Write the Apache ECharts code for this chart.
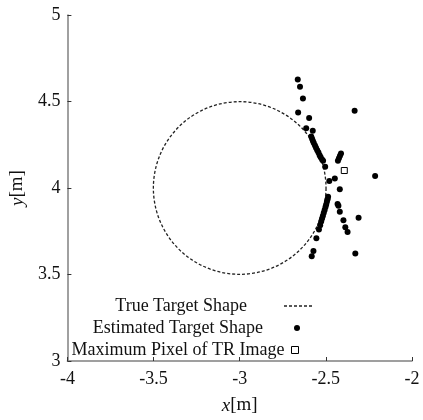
<!DOCTYPE html>
<html>
<head>
<meta charset="utf-8">
<script src="https://cdn.jsdelivr.net/npm/echarts@6/dist/echarts.min.js"></script>
<style>html,body{margin:0;padding:0;background:#fff}#c{width:423px;height:420px}</style>
</head>
<body>
<div id="c"></div>
<script>
// True target: circle [centerX, centerY, radius]
const trueTarget = [[-3, 4, 0.5]];
// Estimated target shape points [x, y]
const estimated = [
  [-2.663, 4.627], [-2.650, 4.585], [-2.633, 4.517], [-2.661, 4.437],
  [-2.597, 4.405], [-2.614, 4.345], [-2.576, 4.331],
  [-2.585, 4.297], [-2.580, 4.285], [-2.575, 4.272], [-2.570, 4.260],
  [-2.563, 4.245], [-2.557, 4.232], [-2.550, 4.218], [-2.543, 4.205],
  [-2.536, 4.190], [-2.530, 4.178], [-2.522, 4.165], [-2.516, 4.157],
  [-2.504, 4.123], [-2.480, 4.040], [-2.448, 4.055], [-2.419, 3.993],
  [-2.333, 4.447], [-2.214, 4.070],
  [-2.412, 4.200], [-2.418, 4.186], [-2.424, 4.172], [-2.430, 4.158],
  [-2.487, 3.949], [-2.490, 3.935], [-2.494, 3.920], [-2.498, 3.905],
  [-2.502, 3.890], [-2.507, 3.873], [-2.512, 3.857], [-2.517, 3.840],
  [-2.522, 3.823], [-2.527, 3.806], [-2.533, 3.785], [-2.540, 3.760],
  [-2.555, 3.709], [-2.572, 3.636], [-2.582, 3.606],
  [-2.432, 3.907], [-2.427, 3.898], [-2.419, 3.862], [-2.398, 3.813],
  [-2.387, 3.773], [-2.374, 3.746], [-2.310, 3.828], [-2.329, 3.621]
];
// Maximum pixel of TR image
const maxPixel = [[-2.393, 4.101]];
const legendNames = ['True Target Shape', 'Estimated Target Shape', 'Maximum Pixel of TR Image'];
const xTicks = { min: -4, max: -2, interval: 0.5 };
const yTicks = { min: 3, max: 5, interval: 0.5 };

const FONT = "'Liberation Serif', 'Times New Roman', serif";
const DASH_ICON = 'path://M0,0h3v1.3h-3z M5,0h3v1.3h-3z M10,0h3v1.3h-3z M15,0h3v1.3h-3z M20,0h3v1.3h-3z M25,0h3v1.3h-3z';
const chart = echarts.init(document.getElementById('c'), null, { renderer: 'canvas' });

function legendFor(item, right, top, w, h, padR) {
  return {
    data: [item],
    right: right, top: top,
    padding: 0,
    align: 'right',
    orient: 'vertical',
    itemWidth: w, itemHeight: h,
    selectedMode: false,
    formatter: '{t|{name}}',
    textStyle: {
      fontFamily: FONT, fontSize: 18, color: '#111', lineHeight: 20,
      rich: { t: { fontFamily: FONT, fontSize: 18, color: '#111', lineHeight: 20, padding: [0, padR, 0, 0] } }
    }
  };
}

const labelStyle = { fontFamily: FONT, fontSize: 18, color: '#111' };

const option = {
  animation: false,
  backgroundColor: '#fff',
  textStyle: { fontFamily: FONT },
  grid: { left: 59, right: 11, top: 15, bottom: 53, containLabel: false },
  xAxis: {
    type: 'value', min: xTicks.min, max: xTicks.max, interval: xTicks.interval,
    name: '{i|x}[m]', nameLocation: 'middle', nameGap: 35,
    nameTextStyle: { fontFamily: FONT, fontSize: 19, color: '#111',
      rich: { i: { fontFamily: FONT, fontSize: 19, fontStyle: 'italic', color: '#111' } } },
    axisLine: { show: true, lineStyle: { color: '#808080', width: 1.5 } },
    axisTick: { show: true, inside: true, length: 4, lineStyle: { color: '#333', width: 1 } },
    axisLabel: Object.assign({ margin: 9 }, labelStyle),
    splitLine: { show: false }
  },
  yAxis: {
    type: 'value', min: yTicks.min, max: yTicks.max, interval: yTicks.interval,
    name: '{i|y}[m]', nameLocation: 'middle', nameGap: 38,
    nameTextStyle: { fontFamily: FONT, fontSize: 19, color: '#111',
      rich: { i: { fontFamily: FONT, fontSize: 19, fontStyle: 'italic', color: '#111' } } },
    axisLine: { show: true, lineStyle: { color: '#808080', width: 1.5 } },
    axisTick: { show: true, inside: true, length: 4, lineStyle: { color: '#333', width: 1 } },
    axisLabel: Object.assign({ margin: 7 }, labelStyle),
    splitLine: { show: false }
  },
  legend: [
    legendFor({ name: legendNames[0], icon: DASH_ICON, itemStyle: { color: '#222' } }, 111, 296, 28, 1.3, 32),
    legendFor({ name: legendNames[1], icon: 'circle', itemStyle: { color: '#000' } }, 123, 318, 6, 6, 26),
    legendFor({ name: legendNames[2], icon: 'rect', itemStyle: { color: '#fff', borderColor: '#000', borderWidth: 1 } }, 124, 340, 7, 7, 2)
  ],
  series: [
    {
      name: legendNames[0], type: 'custom', data: trueTarget,
      encode: { x: 0, y: 1 },
      itemStyle: { color: '#222' },
      renderItem: function (params, api) {
        const c = api.coord([api.value(0), api.value(1)]);
        const s = api.size([api.value(2), api.value(2)]);
        return {
          type: 'circle',
          shape: { cx: c[0], cy: c[1], r: (s[0] + s[1]) / 2 },
          style: { fill: 'none', stroke: '#222', lineWidth: 1.3, lineDash: [3, 2] }
        };
      },
      z: 1
    },
    {
      name: legendNames[1], type: 'scatter', data: estimated,
      symbol: 'circle', symbolSize: 6, itemStyle: { color: '#000', opacity: 1 }, z: 3
    },
    {
      name: legendNames[2], type: 'scatter', data: maxPixel,
      symbol: 'rect', symbolSize: 6,
      itemStyle: { color: '#fff', borderColor: '#000', borderWidth: 1, opacity: 1 }, z: 4
    }
  ]
};
chart.setOption(option);
</script>
</body>
</html>
